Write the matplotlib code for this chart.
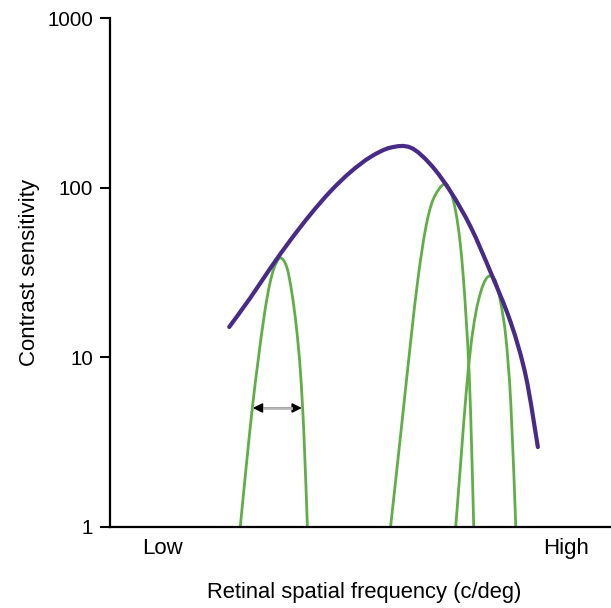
import matplotlib
matplotlib.use("Agg")
import matplotlib.pyplot as plt
import numpy as np
from matplotlib.path import Path
from matplotlib.patches import PathPatch

plt.rcParams['font.family'] = ['Liberation Sans', 'DejaVu Sans']

# Envelope (contrast sensitivity function)
csf_x = [23.8, 28.0, 32.0, 36.0, 40.0, 44.0, 48.0, 52.0, 56.0, 60.0, 64.0, 68.0, 72.0, 76.0, 80.0, 83.0, 85.4]
csf_y = [15.1, 22.4, 33.5, 49.0, 69.5, 95.1, 123.6, 151.7, 172.2, 172.2, 136.8, 94.6, 58.6, 31.6, 16.0, 7.74, 2.96]

# Channel 1 (low frequency)
ch1_x = [26.0, 27.2, 28.4, 29.6, 30.8, 31.8, 32.8, 34.0, 35.3, 36.3, 37.2, 38.0, 38.7, 39.4]
ch1_y = [1.0, 2.29, 5.01, 9.77, 17.8, 26.3, 33.9, 38.6, 33.9, 24.0, 15.1, 8.32, 3.55, 1.0]

# Channel 2 (mid frequency)
ch2_x = [56.0, 58.0, 60.0, 61.5, 63.0, 64.5, 66.66, 68.0, 69.0, 69.8, 70.5, 71.1, 71.7, 72.2, 72.6]
ch2_y = [1.0, 3.47, 12.3, 29.5, 57.5, 85.1, 105.0, 94.4, 72.4, 50.1, 30.2, 16.6, 7.94, 2.82, 1.0]

# Channel 3 (high frequency)
ch3_x = [69.0, 70.0, 71.0, 72.0, 73.0, 74.0, 75.0, 76.0, 77.0, 78.0, 79.0, 80.0, 81.0]
ch3_y = [1.0, 2.40, 5.75, 11.5, 18.2, 24.3, 28.8, 30.2, 27.9, 20.9, 13.2, 5.37, 1.0]

# Bandwidth arrow
arrow_x = [28.5, 38.3]
arrow_y = 5.03

y_ticks = [1, 10, 100, 1000]
y_ticklabels = ['1', '10', '100', '1000']
x_ticks = [10.4, 91.0]
x_ticklabels = ['Low', 'High']

purple = '#472a8a'
green = '#5fb043'


def smooth_path(xs, ys):
    """Catmull-Rom spline through the data points (in x, log10 y space),
    expressed as cubic Bezier segments for matplotlib's Path."""
    p = np.column_stack([np.asarray(xs, float), np.log10(np.asarray(ys, float))])
    n = len(p)
    verts = [p[0]]
    codes = [Path.MOVETO]
    for i in range(n - 1):
        p0 = p[i - 1] if i > 0 else p[i]
        p1 = p[i]
        p2 = p[i + 1]
        p3 = p[i + 2] if i + 2 < n else p[i + 1]
        c1 = p1 + (p2 - p0) / 6.0
        c2 = p2 - (p3 - p1) / 6.0
        verts += [c1, c2, p2]
        codes += [Path.CURVE4] * 3
    verts = np.array(verts)
    verts[:, 1] = 10 ** verts[:, 1]
    return Path(verts, codes)


fig = plt.figure(figsize=(6.11, 6.08), dpi=100)
ax = fig.add_axes([110/611, 81/608, 501/611, 509/608])

ax.set_yscale('log')
ax.set_ylim(1, 1000)
ax.set_xlim(0, 100)

for xs, ys in [(ch1_x, ch1_y), (ch2_x, ch2_y), (ch3_x, ch3_y)]:
    ax.add_patch(PathPatch(smooth_path(xs, ys), fill=False, edgecolor=green,
                           lw=2.0, zorder=2))
ax.add_patch(PathPatch(smooth_path(csf_x, csf_y), fill=False, edgecolor=purple,
                       lw=3.0, capstyle='round', zorder=3))

ax.annotate('', xy=(arrow_x[1], arrow_y), xytext=(arrow_x[0], arrow_y),
            arrowprops=dict(arrowstyle='<|-|>', color='black', lw=1.2,
                            mutation_scale=14, shrinkA=0, shrinkB=0), zorder=4)
ax.plot([arrow_x[0] + 2.2, arrow_x[1] - 2.2], [arrow_y, arrow_y], color='#b8b8b8', lw=2.0, zorder=5)

ax.set_yticks(y_ticks)
ax.set_yticklabels(y_ticklabels)
ax.yaxis.set_minor_locator(matplotlib.ticker.NullLocator())
ax.set_xticks(x_ticks)
ax.set_xticklabels(x_ticklabels)

ax.tick_params(axis='y', length=7, width=1.5, pad=5, labelsize=14.8, direction='out')
ax.tick_params(axis='x', length=0, pad=8, labelsize=16)

for s in ['top', 'right']:
    ax.spines[s].set_visible(False)
for s in ['left', 'bottom']:
    ax.spines[s].set_linewidth(1.6)

ax.set_ylabel('Contrast sensitivity', fontsize=16)
ax.yaxis.set_label_coords(-0.14, 0.5)
ax.set_xlabel('Retinal spatial frequency (c/deg)', fontsize=15.8)
ax.xaxis.set_label_coords(0.507, -0.108)

fig.savefig('out.png', dpi=100)
